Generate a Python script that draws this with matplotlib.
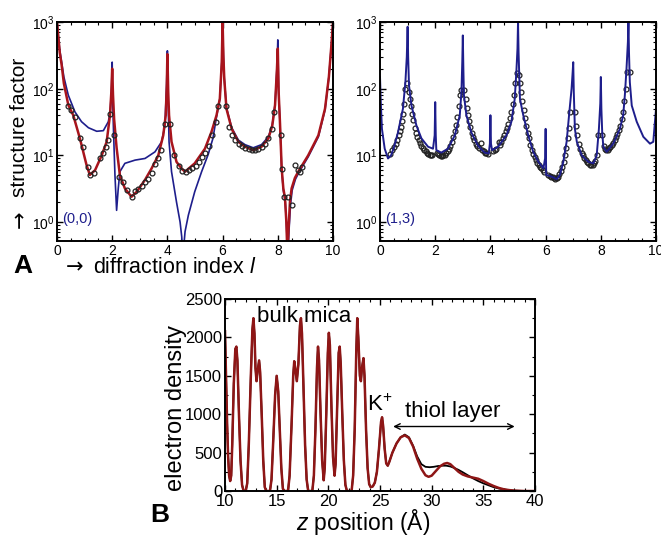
import numpy as np
import matplotlib
matplotlib.use('Agg')
import matplotlib.pyplot as plt
from matplotlib.ticker import MultipleLocator, LogLocator, NullFormatter

plt.rcParams['font.family'] = ['Liberation Sans', 'DejaVu Sans']
plt.rcParams['mathtext.fontset'] = 'custom'
plt.rcParams['mathtext.rm'] = 'Liberation Sans'
plt.rcParams['mathtext.it'] = 'Liberation Sans:italic'
plt.rcParams['mathtext.bf'] = 'Liberation Sans:bold'

RED = '#a8141c'
BLUE = '#1e1e8c'
DRED = '#8e1616'

# ---- panel A, rod (0,0) ----
fit00_l = [0.0, 0.05, 0.1, 0.17, 0.25, 0.41, 0.59, 0.83, 1.07, 1.19, 1.38, 1.62, 1.80, 1.92, 1.97,
           2.0, 2.03, 2.07, 2.16, 2.28, 2.46, 2.70, 2.89, 3.19, 3.43, 3.67, 3.85, 3.94, 3.98,
           4.0, 4.03, 4.06, 4.15, 4.33, 4.52, 4.64, 4.99, 5.36, 5.60, 5.78, 5.90, 5.97,
           6.0, 6.03, 6.06, 6.14, 6.33, 6.57, 6.81, 7.11, 7.41, 7.66, 7.80, 7.90, 7.97,
           8.0, 8.03, 8.08, 8.14, 8.20, 8.26, 8.31, 8.35, 8.39, 8.44, 8.50, 8.62, 8.74,
           9.1, 9.47, 9.71, 9.85, 9.95, 10.0]
fit00_F = [1000, 600, 350, 225, 120, 57, 40, 18, 7.2, 5.1, 6.0, 10, 16, 40, 90,
           200, 80, 35, 13, 5, 3.2, 2.4, 2.85, 4.3, 6.4, 10, 20, 40, 120,
           330, 90, 40, 16, 8, 6.3, 5.7, 7.6, 12.6, 22.7, 40, 71, 250,
           1000, 300, 142, 50, 25, 16, 13.5, 12, 13.5, 18, 28, 57, 200,
           400, 90, 30, 6.4, 3.2, 2.3, 1.0, 0.3, 0.8, 2.0, 3.2, 4.6, 5.7,
           10, 20, 50, 150, 500, 1000]

calc00_l = [0.0, 0.05, 0.1, 0.17, 0.25, 0.41, 0.65, 0.89, 1.14, 1.44, 1.68, 1.86, 1.93, 1.98,
            2.0, 2.02, 2.05, 2.10, 2.16, 2.22, 2.28, 2.46, 2.83, 3.19, 3.55, 3.79, 3.91, 3.97,
            4.0, 4.03, 4.06, 4.15, 4.33, 4.46, 4.52, 4.56, 4.64, 4.76, 4.99, 5.24, 5.48, 5.65,
            5.78, 5.90, 5.97, 6.0, 6.03, 6.06, 6.14, 6.33, 6.57, 6.81, 7.11, 7.41, 7.66, 7.80,
            7.90, 7.97, 8.0, 8.03, 8.08, 8.14, 8.20, 8.27, 8.32, 8.36, 8.41, 8.46, 8.52, 8.64,
            8.76, 9.1, 9.47, 9.71, 9.85, 9.95, 10.0]
calc00_F = [1000, 600, 380, 250, 150, 80, 45, 32, 26, 23, 23.5, 32, 45, 110,
            250, 60, 22, 5.1, 1.5, 3.2, 5.7, 7.6, 8.5, 9, 11.3, 16, 28, 110,
            370, 60, 16, 5.7, 2.0, 1.0, 0.6, 0.3, 0.72, 1.27, 2.85, 5.7, 10.4, 18,
            38, 70, 250, 1000, 300, 145, 52, 26, 17, 14.5, 13, 14.5, 19, 29,
            58, 210, 540, 90, 30, 6.2, 3.0, 2.0, 0.8, 0.3, 0.8, 1.8, 3.0, 4.4,
            5.5, 9.5, 19, 48, 150, 500, 1000]

data00_l = [0.41, 0.50, 0.65, 0.83, 0.95, 1.11, 1.19, 1.35, 1.56, 1.68, 1.76, 1.84, 1.93, 2.07,
            2.24, 2.38, 2.55, 2.72, 2.83, 2.95, 3.07, 3.19, 3.31, 3.43, 3.55, 3.67, 3.76, 3.90,
            4.08, 4.25, 4.42, 4.54, 4.66, 4.78, 4.90, 5.02, 5.14, 5.26, 5.38, 5.50, 5.62, 5.76,
            5.84, 6.14, 6.25, 6.33, 6.45, 6.58, 6.70, 6.82, 6.94, 7.06, 7.18, 7.30, 7.42, 7.54,
            7.66, 7.78, 7.85, 8.10, 8.16, 8.22, 8.38, 8.50, 8.62, 8.72, 8.80, 8.86]
data00_F = [56, 48, 38, 18, 13.5, 6.7, 5.1, 5.4, 9, 11, 13.5, 17, 42, 20,
            4.8, 4.0, 3.0, 2.4, 2.9, 3.1, 3.5, 4.0, 4.5, 5.5, 7.5, 9, 12, 30,
            30, 10, 7, 5.8, 5.6, 6.0, 6.5, 7, 8, 9.5, 11, 14, 20, 32,
            56, 56, 27, 20, 17, 15, 14, 13, 12.5, 12, 12, 12.5, 13.5, 15,
            18, 25, 45, 20, 6.2, 2.4, 2.4, 1.8, 7.3, 6.0, 5.7, 6.8]

# ---- panel A, rod (1,3) ----
calc13_l = [0.0, 0.03, 0.07, 0.17, 0.29, 0.40, 0.50, 0.65, 0.83, 0.92, 0.97, 1.0, 1.02, 1.05, 1.14,
            1.32, 1.50, 1.74, 1.92, 1.98, 2.0, 2.02, 2.04, 2.22, 2.46, 2.71, 2.89, 2.95, 2.98,
            3.0, 3.02, 3.04, 3.13, 3.31, 3.55, 3.79, 3.94, 3.98, 4.0, 4.02, 4.06, 4.28, 4.58,
            4.76, 4.88, 4.94, 4.98, 5.0, 5.02, 5.07, 5.19, 5.37, 5.55, 5.74, 5.92, 5.98, 6.0,
            6.02, 6.22, 6.40, 6.52, 6.64, 6.76, 6.86, 6.94, 6.98, 7.0, 7.02, 7.06, 7.13, 7.31,
            7.55, 7.73, 7.85, 7.93, 7.98, 8.0, 8.02, 8.05, 8.09, 8.21, 8.45, 8.69, 8.81, 8.87,
            8.93, 8.98, 9.0, 9.02, 9.05, 9.12, 9.30, 9.54, 9.78, 9.90, 9.96, 10.0]
calc13_F = [150, 60, 25, 12.6, 9, 10, 13, 22, 50, 126, 300, 850, 300, 112, 56,
            28, 18, 13.5, 12.6, 20, 63, 20, 12, 11, 12.6, 20, 40, 90, 250,
            630, 200, 80, 40, 22, 14, 11, 10.7, 15, 40, 15, 12, 13.5, 20,
            32, 70, 180, 400, 1000, 350, 70, 40, 20, 11.3, 8, 6.4, 9, 25,
            5.1, 4.8, 4.4, 5.1, 8, 16, 45, 100, 180, 250, 90, 25, 16, 10,
            8, 7.6, 10, 25, 60, 150, 50, 22, 13.5, 11.3, 15, 25, 40, 80,
            200, 500, 1000, 350, 126, 56, 32, 19, 15, 16, 32, 50]

data13_l = [0.38, 0.45, 0.52, 0.57, 0.62, 0.67, 0.71, 0.75, 0.79, 0.83, 0.87, 0.92, 0.96, 1.04,
            1.08, 1.12, 1.16, 1.20, 1.25, 1.30, 1.35, 1.40, 1.45, 1.50, 1.55, 1.60, 1.65, 1.70,
            1.75, 1.80, 1.85, 1.90, 2.06, 2.10, 2.15, 2.20, 2.25, 2.30, 2.35, 2.40, 2.45, 2.50,
            2.55, 2.60, 2.65, 2.70, 2.75, 2.80, 2.85, 2.90, 2.95, 3.05, 3.10, 3.14, 3.18, 3.22,
            3.27, 3.32, 3.37, 3.42, 3.47, 3.52, 3.58, 3.65, 3.70, 3.75, 3.80, 3.85, 3.90, 4.10,
            4.15, 4.20, 4.30, 4.35, 4.40, 4.45, 4.50, 4.55, 4.60, 4.65, 4.70, 4.75, 4.80, 4.85,
            4.90, 4.95, 5.05, 5.08, 5.12, 5.16, 5.20, 5.25, 5.30, 5.35, 5.40, 5.45, 5.50, 5.55,
            5.60, 5.65, 5.70, 5.75, 5.80, 5.85, 5.90, 5.95, 6.10, 6.15, 6.20, 6.25, 6.30, 6.35,
            6.40, 6.45, 6.50, 6.55, 6.60, 6.65, 6.70, 6.75, 6.80, 6.85, 6.90, 7.05, 7.10, 7.15,
            7.20, 7.25, 7.30, 7.35, 7.40, 7.45, 7.50, 7.55, 7.60, 7.65, 7.70, 7.75, 7.80, 7.85,
            7.90, 8.05, 8.10, 8.15, 8.20, 8.25, 8.30, 8.35, 8.40, 8.45, 8.50, 8.55, 8.60, 8.65,
            8.70, 8.75, 8.80, 8.85, 8.90, 8.95, 9.05]
data13_F = [10.5, 12, 13.5, 15, 17, 20, 23, 27, 33, 42, 60, 100, 120, 90,
            70, 55, 42, 34, 26, 22, 19, 17, 15.5, 14, 13, 12, 11.5, 11,
            10.5, 10.3, 10.2, 10.3, 11, 10.5, 10, 9.8, 9.8, 10, 10.3, 10.8, 11.5, 12.5,
            14, 16, 19, 23, 29, 38, 55, 80, 95, 95, 70, 52, 40, 33,
            27, 22, 19, 17, 15, 14, 13, 15.5, 12, 11.5, 11, 10.7, 10.5, 11.5,
            12, 12.5, 16, 14.5, 16, 18, 20, 23, 26, 30, 36, 45, 58, 80,
            120, 170, 160, 120, 90, 65, 48, 36, 28, 22, 18, 14.5, 12, 10.5,
            9.5, 8.5, 7.8, 7.2, 6.8, 6.4, 6.0, 5.6, 5.0, 4.9, 4.8, 4.7, 4.6, 4.5,
            4.6, 4.7, 5.2, 5.8, 6.8, 8, 10, 13, 18, 26, 45, 45, 28, 20,
            15, 12.5, 11, 10, 9.2, 8.5, 8, 7.6, 7.3, 7.2, 7.3, 7.6, 8.3, 10,
            20, 20, 14, 12.5, 12, 12.2, 12.8, 13.5, 14.5, 15.5, 17, 19, 21, 24,
            28, 35, 45, 65, 100, 180, 180]

# ---- panel B, electron density profile ----
z_fit = [10.0, 10.1, 10.2, 10.3, 10.4, 10.5, 10.6, 10.7, 10.85, 11.0, 11.1, 11.2, 11.35, 11.5, 11.65,
         11.8, 12.0, 12.15, 12.3, 12.5, 12.65, 12.75, 12.85, 12.95, 13.05, 13.15, 13.3, 13.4, 13.55,
         13.7, 13.85, 14.0, 14.35, 14.5, 14.65, 14.85, 15.0, 15.15, 15.3, 15.45, 15.6, 15.75, 16.1,
         16.25, 16.45, 16.6, 16.7, 16.8, 16.95, 17.1, 17.25, 17.35, 17.45, 17.6, 17.75, 17.9, 18.05,
         18.45, 18.6, 18.75, 18.9, 19.0, 19.1, 19.25, 19.4, 19.55, 19.65, 19.8, 19.95, 20.05, 20.15,
         20.3, 20.45, 20.6, 20.7, 20.85, 21.0, 21.1, 21.2, 21.35, 21.5, 21.65, 21.8, 22.25, 22.4,
         22.55, 22.7, 22.8, 22.9, 23.05, 23.15, 23.25, 23.4, 23.5, 23.65, 23.8, 23.95, 24.1, 24.3,
         24.5, 24.7, 24.9, 25.1, 25.2, 25.3, 25.45, 25.6, 25.75, 25.9, 26.2, 26.6, 27.0,
         27.4, 27.8, 28.2, 28.6, 29.0, 29.4, 29.7, 30.0, 30.4, 30.8, 31.2, 31.5, 31.8, 32.2,
         32.6, 33.0, 33.5, 34.0, 34.5, 35.0, 35.5, 36.0, 36.5, 37.0, 37.5, 38.0, 38.5, 39.0, 40.0]
rho_fit = [2080, 1500, 900, 450, 200, 130, 200, 600, 1400, 1850, 1880, 1700, 1000, 400, 80,
           0, 0, 100, 600, 1500, 2100, 2250, 2050, 1600, 1430, 1550, 1700, 1550, 1000,
           400, 50, 0, 0, 150, 600, 1250, 1500, 1300, 800, 300, 30, 0, 0,
           200, 900, 1500, 1690, 1600, 1430, 1650, 2150, 2250, 2050, 1300, 600, 150, 0,
           0, 200, 800, 1600, 1880, 1700, 1000, 400, 140, 300, 1000, 1800, 2060, 1900,
           1100, 450, 200, 350, 1100, 1800, 1880, 1650, 1000, 400, 80, 0, 0, 200,
           800, 1800, 2250, 2000, 1500, 1430, 1600, 1730, 1500, 800, 300, 90, 50, 60,
           110, 250, 550, 900, 960, 850, 550, 360, 330, 380, 500, 620, 700,
           725, 690, 580, 420, 290, 205, 185, 200, 260, 320, 355, 365, 350, 300,
           250, 215, 190, 175, 160, 130, 95, 65, 40, 22, 12, 5, 2, 0, 0]
# model profile: same as fit up to z = 27, different in the thiol layer
n_shared = z_fit.index(27.0)
z_thiol = [27.4, 27.8, 28.2, 28.6, 29.0, 29.4, 29.8, 30.2, 30.6, 31.0, 31.4, 31.8, 32.2, 32.6,
           33.0, 33.5, 34.0, 34.5, 35.0, 35.5, 36.0, 36.5, 37.0, 37.5, 38.0, 38.5, 39.0, 40.0]
rho_thiol = [735, 700, 590, 450, 350, 315, 310, 315, 325, 330, 330, 320, 300, 275,
             245, 205, 165, 130, 100, 75, 50, 33, 20, 11, 5, 2, 0.5, 0]
z_model = z_fit[:n_shared + 1] + z_thiol
rho_model = rho_fit[:n_shared + 1] + rho_thiol


fig = plt.figure(figsize=(6.61, 5.35), dpi=100)
axL = fig.add_axes([0.0862, 0.5495, 0.4176, 0.4093])
axR = fig.add_axes([0.5749, 0.5495, 0.4176, 0.4093])
axB = fig.add_axes([0.3404, 0.0822, 0.469, 0.3589])


def style_rod(ax):
    ax.set_yscale('log')
    ax.set_xlim(0, 10)
    ax.set_ylim(0.52, 1000)
    ax.xaxis.set_major_locator(MultipleLocator(2))
    ax.xaxis.set_minor_locator(MultipleLocator(0.5))
    ax.yaxis.set_major_locator(LogLocator(base=10, numticks=10))
    ax.yaxis.set_minor_locator(LogLocator(base=10, subs=np.arange(2, 10), numticks=10))
    ax.yaxis.set_minor_formatter(NullFormatter())
    ax.tick_params(which='both', direction='in', top=True, right=True, labelsize=10, pad=2)
    ax.tick_params(which='major', length=4, width=1)
    ax.tick_params(which='minor', length=2, width=0.8)
    for s in ax.spines.values():
        s.set_linewidth(1.4)


style_rod(axL)
axL.plot(calc00_l, calc00_F, color=BLUE, lw=1.2)
axL.plot(fit00_l, fit00_F, color=RED, lw=1.8)
axL.plot(data00_l, data00_F, 'o', mfc='none', mec='#222222', ms=3.5, mew=0.9)
axL.text(0.02, 0.08, '(0,0)', transform=axL.transAxes, color=BLUE, fontsize=10.5)

style_rod(axR)
axR.plot(data13_l, data13_F, 'o', mfc='none', mec='#222222', ms=3.5, mew=0.9)
axR.plot(calc13_l, calc13_F, color=BLUE, lw=1.4)
axR.text(0.02, 0.08, '(1,3)', transform=axR.transAxes, color=BLUE, fontsize=10.5)

# axis labels of panel A, arrows drawn in DejaVu Sans
fig.text(0.030, 0.590, '\u2192', rotation=90, fontsize=15, family='DejaVu Sans',
         ha='center', va='center')
fig.text(0.030, 0.762, 'structure factor', rotation=90, fontsize=15,
         ha='center', va='center')
fig.text(0.112, 0.500, '\u2192', fontsize=15, family='DejaVu Sans',
         ha='center', va='center')
fig.text(0.141, 0.500, 'diffraction index $\\mathit{l}$', fontsize=15.5,
         ha='left', va='center')
fig.text(0.020, 0.503, 'A', fontsize=19, fontweight='bold', ha='left', va='center')

axB.plot(z_model, rho_model, color='black', lw=1.3)
axB.plot(z_fit, rho_fit, color=DRED, lw=1.8)
axB.set_xlim(10, 40)
axB.set_ylim(0, 2500)
axB.xaxis.set_major_locator(MultipleLocator(5))
axB.xaxis.set_minor_locator(MultipleLocator(1))
axB.yaxis.set_major_locator(MultipleLocator(500))
axB.yaxis.set_minor_locator(MultipleLocator(250))
axB.tick_params(which='both', direction='in', top=True, right=True, labelsize=12, pad=2)
axB.tick_params(which='major', length=4, width=1)
axB.tick_params(which='minor', length=2, width=0.8)
for s in axB.spines.values():
    s.set_linewidth(1.4)
fig.text(0.266, 0.237, 'electron density', rotation=90, fontsize=17,
         ha='center', va='center')
fig.text(0.549, 0.025, r'$\mathit{z}$ position (Å)', fontsize=16.5,
         ha='center', va='center')

axB.text(17.7, 2270, 'bulk mica', fontsize=16, ha='center', va='center')
axB.text(25.0, 1120, r'K$^{+}$', fontsize=16, ha='center', va='center')
axB.text(32.0, 1030, 'thiol layer', fontsize=16, ha='center', va='center')
axB.annotate('', xy=(26.0, 840), xytext=(38.3, 840),
             arrowprops=dict(arrowstyle='<->', color='black', lw=1.0))
fig.text(0.228, 0.038, 'B', fontsize=19, fontweight='bold', ha='left', va='center')

fig.savefig('out.png', dpi=100)
